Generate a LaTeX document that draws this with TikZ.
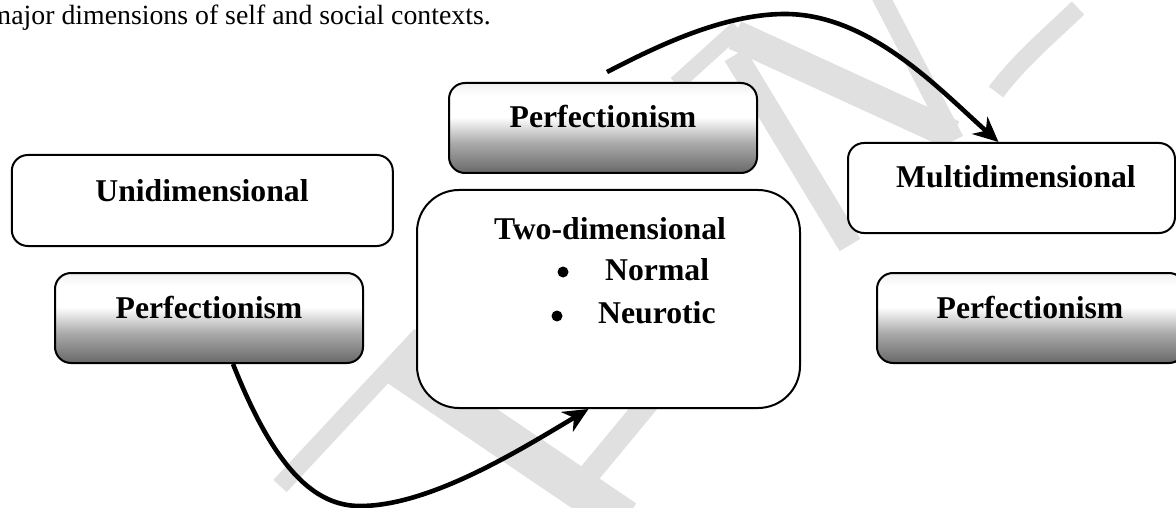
\documentclass[tikz,border=0pt]{standalone}
\usepackage{fontspec}
\setmainfont{Liberation Serif}
\usetikzlibrary{arrows.meta,calc}

\definecolor{wmark}{RGB}{224,224,224}
\definecolor{gradbot}{RGB}{104,104,104}
\definecolor{gradmid}{RGB}{172,172,172}
\definecolor{gradtop}{RGB}{240,240,240}
% grey at the bottom, white through the middle, a faint tint at the top
\pgfdeclareverticalshading{perfgrad}{100bp}{color(0bp)=(gradbot); color(25bp)=(gradbot); color(42bp)=(gradmid); color(56bp)=(white); color(68bp)=(white); color(75bp)=(gradtop); color(100bp)=(gradtop)}

\begin{document}
\begin{tikzpicture}[x=1pt,y=-1pt,
  box/.style={draw=black, line width=2pt, rounded corners=16pt, rectangle, inner sep=0pt},
  plainbox/.style={box, fill=white},
  gradbox/.style={box, shading=perfgrad},
  boxtext/.style={font=\fontsize{31.7}{38}\selectfont\bfseries, inner sep=0pt, anchor=base},
  itemtext/.style={boxtext, anchor=base west},
  dot/.style={circle, fill=black, inner sep=0pt, minimum size=11pt},
  flow/.style={line width=4.6pt, -{Stealth[length=25pt,width=23pt,inset=8pt]}},
  wm/.style={draw=wmark, line cap=butt}
]
\useasboundingbox (0,0) rectangle (1176,508);

% faint watermark strokes in the background
\draw[wm, line width=18pt] (280,486) -- (421,335);
\draw[wm, line width=40pt] (392,362) -- (625,520);
\draw[wm, line width=22pt] (652,398) -- (566,502);
\draw[wm, line width=16pt] (676,84) -- (738,28);
\draw[wm, line width=24pt] (735,55) -- (850,245);
\draw[wm, line width=30pt] (735,35) -- (953,135);
\draw[wm, line width=18pt] (872,-20) -- (955,140);
\draw[wm, line width=18pt] (1078,8) .. controls (1050,35) and (1020,60) .. (996,92);

% running text above the figure
\node[font=\fontsize{27.8}{33}\selectfont, inner sep=0pt, anchor=base west] (caption) at (-10.5,25)
  {major dimensions of self and social contexts.};

% left column
\node[plainbox, minimum width=381pt, minimum height=91pt] (uni) at (202.3,200.5) {};
\node[boxtext] (uniT) at (202,201) {Unidimensional};
\node[gradbox, minimum width=308pt, minimum height=90pt] (pL) at (209,318) {};
\node[boxtext] (pLT) at (209,318) {Perfectionism};

% middle column
\node[gradbox, minimum width=308pt, minimum height=90pt] (pT) at (603,128) {};
\node[boxtext] (pTT) at (603,128) {Perfectionism};
\node[plainbox, rounded corners=42pt, minimum width=383pt, minimum height=218pt] (two) at (608.5,299) {};
\node[boxtext] (twoT) at (610,240) {Two-dimensional};
\node[dot] (b1) at (563,272) {};
\node[itemtext] (normal) at (605,280) {Normal};
\node[dot] (b2) at (557,316) {};
\node[itemtext] (neurotic) at (598,323) {Neurotic};

% right column
\node[plainbox, minimum width=327pt, minimum height=90pt] (multi) at (1011.5,188) {};
\node[boxtext] (multiT) at (1016,188) {Multidimensional};
\node[gradbox, minimum width=308pt, minimum height=90pt] (pR) at (1031,318) {};
\node[boxtext] (pRT) at (1030,318) {Perfectionism};

% curved connectors
\draw[flow] ([xshift=24pt]pL.south) .. controls (275,470) and (315,506) .. (360,506)
  .. controls (430,506) and (520,450) .. ([xshift=-20pt]two.south);
\draw[flow] ([xshift=4pt,yshift=10pt]pT.north) .. controls (650,50) and (720,14) .. (785,14)
  .. controls (870,14) and (940,90) .. ([xshift=-13pt]multi.north);
\end{tikzpicture}
\end{document}
